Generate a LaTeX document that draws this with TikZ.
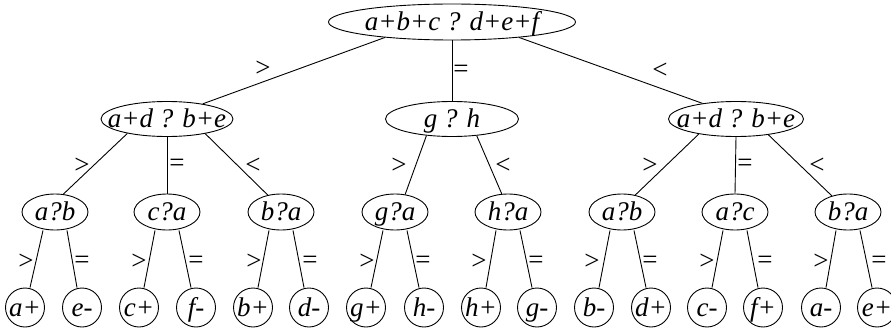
\documentclass[tikz,border=0pt]{standalone}
\usepackage{fontspec}
\setmainfont{Liberation Serif}
\usetikzlibrary{shapes.geometric}
\newcommand{\tx}[1]{\makebox[0pt]{\raisebox{-8.5pt}[0pt][0pt]{\itshape #1}}}
\begin{document}
\begin{tikzpicture}[x=1pt,y=-1pt,
  every node/.style={font=\fontsize{27}{32}\selectfont},
  ell/.style={draw, ellipse, inner sep=0pt, line width=0.9pt},
  leaf/.style={draw, circle, inner sep=0pt, minimum size=39pt, line width=0.9pt},
  lab/.style={inner sep=0pt},
  conn/.style={line width=0.9pt}]
\useasboundingbox (0,0) rectangle (891,329);
% root
\node[ell, minimum width=247pt, minimum height=36pt] (root) at (452,22) {\tx{a+b+c ? d+e+f}};
% level 1
\node[ell, minimum width=132pt, minimum height=35pt] (L) at (167,119) {\tx{a+d ? b+e}};
\node[ell, minimum width=133pt, minimum height=35pt] (M) at (452,119) {\tx{g ? h}};
\node[ell, minimum width=135pt, minimum height=35pt] (R) at (736,119) {\tx{a+d ? b+e}};
% level 2
\foreach \n/\x/\t in {ab1/55/a?b, ca/167/c?a, ba1/281/b?a, ga/395/g?a, ha/508/h?a, ab2/622/a?b, ac/735/a?c, ba2/848/b?a}
  \node[ell, minimum width=66pt, minimum height=36pt] (\n) at (\x,212) {\tx{\t}};
% level 3
\foreach \n/\x/\t in {ap/25/a+, em/82/e-, cp/139/c+, fm/196/f-, bp/253/b+, dm/309/d-, gp/366/g+, hm/424/h-, hp/481/h+, gm/537/g-, bm/594/b-, dp/651/d+, cm/707/c-, fp/763/f+, am/821/a-, ep/877/e+}
  \node[leaf] (\n) at (\x,307.5) {\tx{\t}};
% root edges
\draw[conn] (root.193) -- (L.23);
\draw[conn] (root.south) -- (M.north);
\draw[conn] (root.-13) -- (R.155);
% level 1 edges
\draw[conn] (L.200) -- (ab1.65);
\draw[conn] (L.south) -- (ca.north);
\draw[conn] (L.-21) -- (ba1.128);
\draw[conn] (M.213) -- (ga.60);
\draw[conn] (M.-34) -- (ha.109);
\draw[conn] (R.202) -- (ab2.52);
\draw[conn] (R.south) -- (ac.north);
\draw[conn] (R.-26) -- (ba2.135);
% level 2 edges
\foreach \p/\l/\r in {ab1/ap/em, ca/cp/fm, ba1/bp/dm, ga/gp/hm, ha/hp/gm, ab2/bm/dp, ac/cm/fp, ba2/am/ep}{
  \draw[conn] ([xshift=-12pt]\p.south) -- ([xshift=5pt]\l.north);
  \draw[conn] ([xshift=12pt]\p.south) -- ([xshift=-5pt]\r.north);
}
% labels
\node[lab] (g0) at (263,69) {>};
\node[lab] (e0) at (461,71) {=};
\node[lab] (s0) at (660,71) {<};
\node[lab] (gL) at (82,166) {>};
\node[lab] (eL) at (177,165) {=};
\node[lab] (sL) at (253,166) {<};
\node[lab] (gM) at (399,166) {>};
\node[lab] (sM) at (503,166) {<};
\node[lab] (gR) at (650,166) {>};
\node[lab] (eR) at (745,165) {=};
\node[lab] (sR) at (817,166) {<};
\foreach \i/\a/\b in {1/26/82, 2/139/196, 3/254/310, 4/367/423, 5/479/536, 6/592/650, 7/707/765, 8/821/879}{
  \node[lab] (gx\i) at (\a,262) {>};
  \node[lab] (ex\i) at (\b,262) {=};
}
\end{tikzpicture}
\end{document}
